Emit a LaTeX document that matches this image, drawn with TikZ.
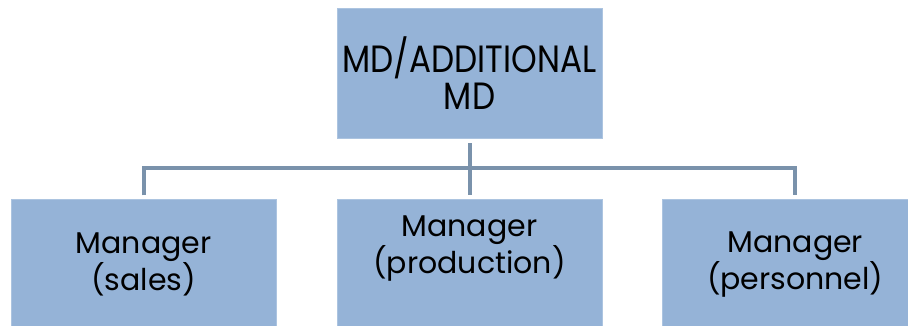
\documentclass[tikz,border=0pt]{standalone}
\usepackage{fontspec}
\setmainfont{Poppins}
\newfontfamily\headfont{Poppins}[FakeStretch=0.86]
\usetikzlibrary{positioning}

\definecolor{boxblue}{RGB}{149,179,215}
\definecolor{boxedge}{RGB}{172,196,224}
\definecolor{linkgray}{RGB}{122,146,171}

\tikzset{
  post/.style={draw=boxedge, fill=boxblue, line width=0.8pt,
    minimum width=265pt, minimum height=130pt, inner sep=0pt,
    align=center, font=\fontsize{30}{36}\selectfont},
  link/.style={draw=linkgray, line width=4pt}
}

\begin{document}
\begin{tikzpicture}
\useasboundingbox (0,0) rectangle (908pt,326pt);

% Head of the company (top box)
\node[post, font=\headfont\fontsize{38}{37}\selectfont] (md) at (469.5pt,253pt) {MD/ADDITIONAL\\MD};

% Three managers (bottom row)
\node[post, below=61pt of md] (prod) {Manager\\(production)\\[4pt]};
\node[post, left=60pt of prod] (sales) {Manager\\(sales)};
\node[post, right=60pt of prod] (pers) {Manager\\(personnel)};

% Connection lines
\coordinate (bus) at ([yshift=-30pt]md.south);
\draw[link] ([yshift=-5pt]md.south) -- ([yshift=4pt]prod.north);
\draw[link] ([yshift=4pt]sales.north) |- (bus) -| ([yshift=4pt]pers.north);

\end{tikzpicture}
\end{document}
